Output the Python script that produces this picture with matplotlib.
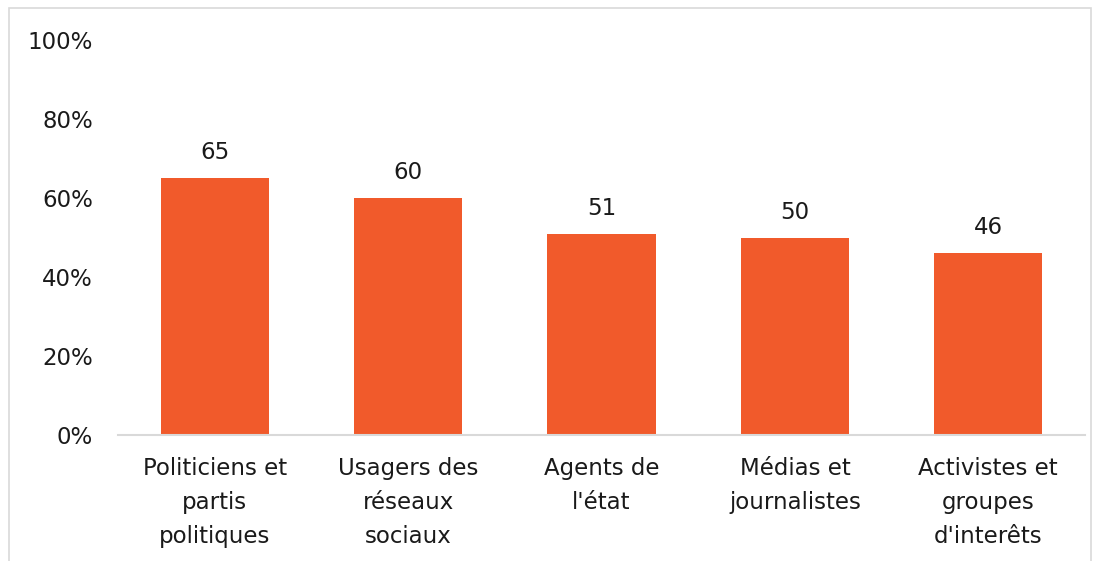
import matplotlib
matplotlib.use("Agg")
import matplotlib.pyplot as plt
from matplotlib.patches import Rectangle

categories = ["Politiciens et\npartis\npolitiques", "Usagers des\nréseaux\nsociaux",
              "Agents de\nl'état", "Médias et\njournalistes", "Activistes et\ngroupes\nd'interêts"]
values = [65, 60, 51, 50, 46]
yticks = [0, 20, 40, 60, 80, 100]
ytick_labels = ["0%", "20%", "40%", "60%", "80%", "100%"]

plt.rcParams['font.family'] = ['DejaVu Sans']
fig = plt.figure(figsize=(10.98, 5.61), dpi=100)
fig.patches.append(Rectangle((9/1098, -0.05), (1091-9)/1098, (553)/561 + 0.05 - 0.0,
                             transform=fig.transFigure, fill=False, edgecolor='#D9D9D9', linewidth=1.2))
ax = fig.add_axes([118/1098, 126/561, (1085-118)/1098, (435-40)/561])
x = range(len(values))
bars = ax.bar(x, values, width=0.56, color='#F15A2B')
for xi, v in zip(x, values):
    ax.text(xi, v + 3.5, str(v), ha='center', va='bottom', fontsize=16.5, color='#1a1a1a')
ax.set_xlim(-0.5, 4.5)
ax.set_ylim(0, 100)
ax.set_yticks(yticks)
ax.set_yticklabels(ytick_labels, fontsize=16.5, color='#1a1a1a')
ax.set_xticks(list(x))
ax.set_xticklabels(categories, fontsize=16.5, color='#1a1a1a', linespacing=1.6)
ax.tick_params(axis='both', length=0)
ax.tick_params(axis='y', pad=18)
ax.tick_params(axis='x', pad=16)
for s in ['top', 'right', 'left']:
    ax.spines[s].set_visible(False)
ax.spines['bottom'].set_color('#D9D9D9')
ax.spines['bottom'].set_linewidth(1.5)
fig.savefig("out.png", dpi=100)
